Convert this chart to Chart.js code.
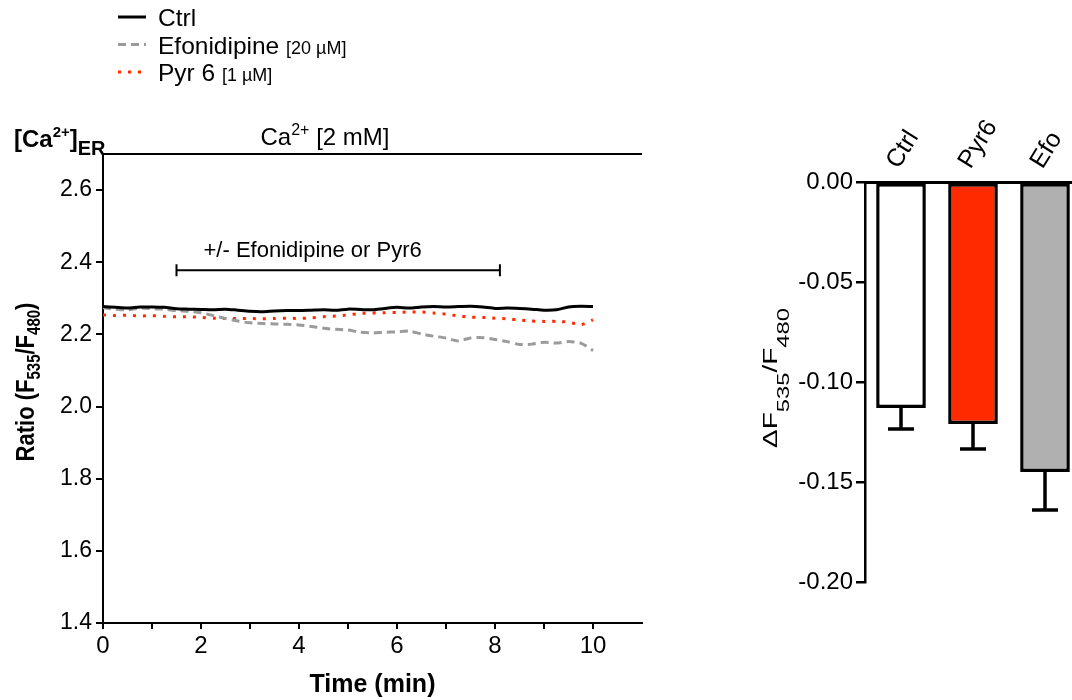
<!DOCTYPE html>
<html>
<head>
<meta charset="utf-8">
<title>[Ca2+]ER - Efonidipine / Pyr6</title>
<script src="https://cdn.jsdelivr.net/npm/chart.js@4.4.0/dist/chart.umd.min.js"></script>
<style>
  html, body { margin: 0; padding: 0; background: #fff; overflow: hidden; }
  #wrap { position: relative; width: 1072px; height: 700px; overflow: hidden; }
  #traceBox { position: absolute; left: 0; top: 0; width: 700px; height: 700px; }
  #barBox { position: absolute; left: 700px; top: 0; width: 400px; height: 700px; }
</style>
</head>
<body>
<div id="wrap">
  <div id="traceBox"><canvas id="traceChart" width="700" height="700"></canvas></div>
  <div id="barBox"><canvas id="barChart" width="400" height="700"></canvas></div>
</div>
<script>
'use strict';

// time in minutes, one point every 15 s
const timeMin = [0, 0.25, 0.5, 0.75, 1, 1.25, 1.5, 1.75, 2, 2.25, 2.5, 2.75, 3, 3.25, 3.5, 3.75,
  4, 4.25, 4.5, 4.75, 5, 5.25, 5.5, 5.75, 6, 6.25, 6.5, 6.75, 7, 7.25, 7.5, 7.75,
  8, 8.25, 8.5, 8.75, 9, 9.25, 9.5, 9.75, 10];

// F535/F480 ratio traces
const ctrlRatio = [2.277, 2.275, 2.273, 2.276, 2.276, 2.275, 2.271, 2.270, 2.269, 2.268, 2.270, 2.267, 2.264, 2.263, 2.265, 2.266,
  2.266, 2.267, 2.268, 2.267, 2.270, 2.269, 2.268, 2.272, 2.275, 2.273, 2.276, 2.277, 2.276, 2.277, 2.278, 2.276,
  2.272, 2.273, 2.272, 2.270, 2.267, 2.268, 2.276, 2.278, 2.277];
const efoRatio = [2.274, 2.270, 2.268, 2.273, 2.271, 2.270, 2.266, 2.264, 2.260, 2.252, 2.244, 2.237, 2.232, 2.230, 2.229, 2.228,
  2.226, 2.222, 2.217, 2.214, 2.212, 2.206, 2.204, 2.206, 2.207, 2.209, 2.201, 2.195, 2.190, 2.182, 2.190, 2.191,
  2.186, 2.180, 2.172, 2.173, 2.178, 2.176, 2.180, 2.176, 2.155];
const pyrRatio = [2.254, 2.252, 2.253, 2.251, 2.252, 2.250, 2.249, 2.249, 2.247, 2.245, 2.244, 2.244, 2.244, 2.243, 2.244, 2.245,
  2.244, 2.246, 2.249, 2.251, 2.254, 2.258, 2.259, 2.260, 2.261, 2.262, 2.262, 2.259, 2.256, 2.251, 2.248, 2.247,
  2.245, 2.243, 2.240, 2.237, 2.236, 2.236, 2.234, 2.227, 2.240];

const traceNames = ['Ctrl', 'Efonidipine', 'Pyr 6'];
const traceDoses = ['', '[20 µM]', '[1 µM]'];
const traceColors = ['#000000', '#9b9b9b', '#ff2a00'];
const traceDashes = [[], [8, 5], [3, 7]];

const ratioTicks = [1.4, 1.6, 1.8, 2.0, 2.2, 2.4, 2.6];
const timeTicks = [0, 1, 2, 3, 4, 5, 6, 7, 8, 9, 10];
const timeLabels = [0, 2, 4, 6, 8, 10];

// drug window (min) and level of the bracket
const drugStart = 1.5;
const drugEnd = 8.1;
const drugLevel = 2.378;

// bar chart: change of ratio
const barNames = ['Ctrl', 'Pyr6', 'Efo'];
const barMeans = [-0.113, -0.121, -0.145];
const barErrors = [0.0105, 0.0125, 0.019];
const barColors = ['#ffffff', '#ff2a00', '#b0b0b0'];
const deltaTicks = [0, -0.05, -0.10, -0.15, -0.20];

const FONT = "'Liberation Sans', Arial, Helvetica, sans-serif";
const NARROW = "'Liberation Sans Narrow', 'Liberation Sans', Arial, sans-serif";

Chart.defaults.font.family = FONT;
Chart.defaults.color = '#000';

// draws text pieces side by side (for sub/superscripts)
function richText(ctx, parts, x, y, align) {
  let total = 0;
  for (let i = 0; i < parts.length; i++) {
    ctx.font = parts[i].font;
    total += ctx.measureText(parts[i].t).width;
  }
  let cx = x;
  if (align === 'center') cx = x - total / 2;
  if (align === 'right') cx = x - total;
  ctx.textAlign = 'left';
  ctx.textBaseline = 'alphabetic';
  for (let i = 0; i < parts.length; i++) {
    ctx.font = parts[i].font;
    ctx.fillText(parts[i].t, cx, y + (parts[i].dy || 0));
    cx += ctx.measureText(parts[i].t).width;
  }
}

let traceData = [ctrlRatio, efoRatio, pyrRatio];
let traceSets = [];
for (let i = 0; i < traceData.length; i++) {
  let pts = [];
  for (let j = 0; j < timeMin.length; j++) {
    pts.push({ x: timeMin[j], y: traceData[i][j] });
  }
  traceSets.push({
    label: traceNames[i],
    data: pts,
    borderColor: traceColors[i],
    borderDash: traceDashes[i],
    borderWidth: 3,
    pointRadius: 0,
    tension: 0.25,
    fill: false
  });
}

const traceDecor = {
  id: 'traceDecor',
  afterDraw(chart) {
    const ctx = chart.ctx;
    const area = chart.chartArea;
    const xs = chart.scales.x;
    const ys = chart.scales.y;
    ctx.save();
    ctx.fillStyle = '#000';

    // legend
    for (let i = 0; i < traceNames.length; i++) {
      let ly = 17 + i * 27.5;
      ctx.strokeStyle = traceColors[i];
      ctx.lineWidth = 3;
      ctx.setLineDash(traceDashes[i]);
      ctx.beginPath();
      ctx.moveTo(118, ly);
      ctx.lineTo(146, ly);
      ctx.stroke();
      ctx.setLineDash([]);
      richText(ctx, [
        { t: traceNames[i] + ' ', font: '24.5px ' + FONT },
        { t: traceDoses[i], font: '18px ' + FONT }
      ], 158, ly + 9, 'left');
    }

    // [Ca2+]ER label
    richText(ctx, [
      { t: '[Ca', font: 'bold 24px ' + FONT },
      { t: '2+', font: 'bold 15px ' + FONT, dy: -10 },
      { t: ']', font: 'bold 24px ' + FONT },
      { t: 'ER', font: 'bold 20px ' + FONT, dy: 8 }
    ], 14, 147, 'left');

    // Ca2+ application bar along the top
    ctx.strokeStyle = '#000';
    ctx.lineWidth = 2;
    ctx.beginPath();
    ctx.moveTo(area.left - 1, area.top);
    ctx.lineTo(area.right, area.top);
    ctx.stroke();
    richText(ctx, [
      { t: 'Ca', font: '24px ' + FONT },
      { t: '2+', font: '16px ' + FONT, dy: -10 },
      { t: ' [2 mM]', font: '24px ' + FONT }
    ], 325, 145, 'center');

    // drug bracket
    let bx1 = xs.getPixelForValue(drugStart);
    let bx2 = xs.getPixelForValue(drugEnd);
    let by = ys.getPixelForValue(drugLevel);
    ctx.beginPath();
    ctx.moveTo(bx1, by);
    ctx.lineTo(bx2, by);
    ctx.moveTo(bx1, by - 6);
    ctx.lineTo(bx1, by + 6);
    ctx.moveTo(bx2, by - 6);
    ctx.lineTo(bx2, by + 6);
    ctx.stroke();
    richText(ctx, [{ t: '+/- Efonidipine or Pyr6', font: '22px ' + FONT }], bx1 + 27, by - 13, 'left');

    // y axis title with subscripts
    ctx.translate(34, 382);
    ctx.rotate(-Math.PI / 2);
    ctx.scale(1, 1.2);
    richText(ctx, [
      { t: 'Ratio (F', font: 'bold 22px ' + FONT },
      { t: '535', font: 'bold 15px ' + FONT, dy: 5 },
      { t: '/F', font: 'bold 22px ' + FONT },
      { t: '480', font: 'bold 15px ' + FONT, dy: 5 },
      { t: ')', font: 'bold 22px ' + FONT }
    ], 0, 0, 'center');
    ctx.restore();
  }
};

new Chart(document.getElementById('traceChart'), {
  type: 'line',
  data: { datasets: traceSets },
  options: {
    responsive: false,
    animation: false,
    layout: { padding: { top: 154, right: 58, left: 0, bottom: 0 } },
    plugins: { legend: { display: false }, tooltip: { enabled: false } },
    scales: {
      x: {
        type: 'linear',
        min: 0,
        max: 11,
        afterBuildTicks: (scale) => { scale.ticks = timeTicks.map(v => ({ value: v })); },
        afterFit: (scale) => { scale.height = 77; },
        ticks: {
          autoSkip: false,
          maxRotation: 0,
          padding: 3,
          font: { family: NARROW, size: 24 },
          callback: (v) => (timeLabels.includes(v) ? String(v) : '')
        },
        grid: { drawOnChartArea: false, tickLength: 6, color: '#000', lineWidth: 2 },
        border: { color: '#000', width: 2 },
        title: {
          display: true,
          text: 'Time (min)',
          font: { family: NARROW, size: 25, weight: 'bold' },
          padding: { top: 0, bottom: 0 }
        }
      },
      y: {
        min: 1.4,
        max: 2.7,
        afterBuildTicks: (scale) => { scale.ticks = ratioTicks.map(v => ({ value: v })); },
        afterFit: (scale) => { scale.width = 103; },
        ticks: {
          padding: 4,
          font: { size: 23 },
          callback: (v) => Number(v).toFixed(1)
        },
        grid: { drawOnChartArea: false, tickLength: 7, color: '#000', lineWidth: 2 },
        border: { color: '#000', width: 2 }
      }
    }
  },
  plugins: [traceDecor]
});

const barDecor = {
  id: 'barDecor',
  afterDatasetsDraw(chart) {
    const ctx = chart.ctx;
    const ys = chart.scales.y;
    const meta = chart.getDatasetMeta(0);
    ctx.save();
    ctx.strokeStyle = '#000';
    ctx.lineWidth = 3.5;
    for (let i = 0; i < meta.data.length; i++) {
      let bar = meta.data[i];
      let yEnd = ys.getPixelForValue(barMeans[i]);
      let yErr = ys.getPixelForValue(barMeans[i] - barErrors[i]);
      ctx.beginPath();
      ctx.moveTo(bar.x, yEnd);
      ctx.lineTo(bar.x, yErr);
      ctx.moveTo(bar.x - 13, yErr);
      ctx.lineTo(bar.x + 13, yErr);
      ctx.stroke();
    }
    ctx.restore();
  },
  afterDraw(chart) {
    const ctx = chart.ctx;
    ctx.save();
    ctx.fillStyle = '#000';
    ctx.translate(77, 378);
    ctx.rotate(-Math.PI / 2);
    ctx.scale(1.4, 1);
    richText(ctx, [
      { t: '\u0394F', font: '20px ' + FONT },
      { t: '535', font: '17px ' + FONT, dy: 12 },
      { t: '/F', font: '20px ' + FONT },
      { t: '480', font: '17px ' + FONT, dy: 12 }
    ], 0, 0, 'center');
    ctx.restore();
  }
};

new Chart(document.getElementById('barChart'), {
  type: 'bar',
  data: {
    labels: barNames,
    datasets: [{
      data: barMeans,
      backgroundColor: barColors,
      borderColor: '#000',
      borderWidth: 3.5,
      borderSkipped: false,
      barPercentage: 0.69,
      categoryPercentage: 1
    }]
  },
  options: {
    responsive: false,
    animation: false,
    layout: { padding: { top: 0, right: 19, left: 0, bottom: 118 } },
    plugins: { legend: { display: false }, tooltip: { enabled: false } },
    scales: {
      x: {
        position: 'top',
        afterFit: (scale) => { scale.height = 182; },
        ticks: { minRotation: 58, maxRotation: 58, padding: 8, labelOffset: 17, font: { size: 25 } },
        grid: { display: false, drawTicks: false },
        border: { color: '#000', width: 3 }
      },
      y: {
        min: -0.2,
        max: 0,
        afterBuildTicks: (scale) => { scale.ticks = deltaTicks.map(v => ({ value: v })); },
        afterFit: (scale) => { scale.width = 165; },
        ticks: {
          padding: 3,
          font: { size: 24 },
          callback: (v) => Number(v).toFixed(2)
        },
        grid: { drawOnChartArea: false, tickLength: 9, color: '#000', lineWidth: 2.5 },
        border: { color: '#000', width: 2.5 }
      }
    }
  },
  plugins: [barDecor]
});
</script>
</body>
</html>
